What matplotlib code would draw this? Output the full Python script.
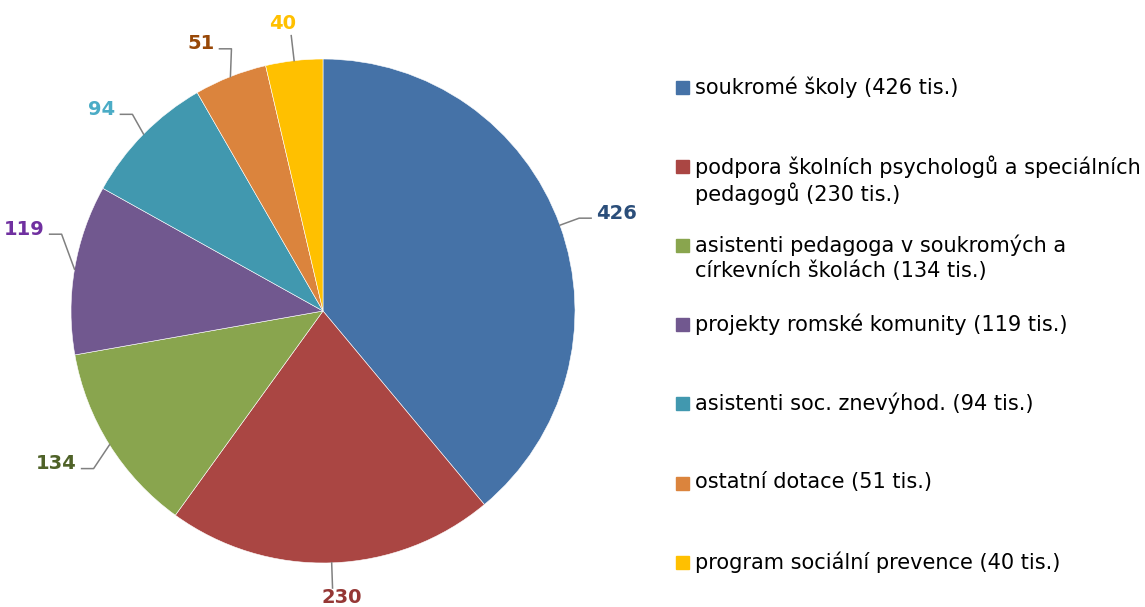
import numpy as np
import matplotlib.pyplot as plt

W, H = 1145, 607

categories = ['soukromé školy', 'podpora školních psychologů a speciálních\npedagogů',
              'asistenti pedagoga v soukromých a\ncírkevních školách', 'projekty romské komunity',
              'asistenti soc. znevýhod.', 'ostatní dotace', 'program sociální prevence']
values = [426, 230, 134, 119, 94, 51, 40]
colors = ['#4572A7', '#AA4643', '#89A54E', '#71588F', '#4198AF', '#DB843D', '#FFC000']
label_colors = ['#2B4E7A', '#953735', '#4F6228', '#7030A0', '#4BACC6', '#984807', '#FFC000']

fig = plt.figure(figsize=(W / 100, H / 100), dpi=100)
ax = fig.add_axes([0, 0, 1, 1])

cx, cy, R = 323, H - 311, 252
wedges, _ = ax.pie(values, colors=colors, startangle=90, counterclock=False,
                   center=(cx, cy), radius=R, frame=True,
                   wedgeprops=dict(edgecolor='white', linewidth=0.4))
ax.set_xlim(0, W)
ax.set_ylim(0, H)
ax.set_aspect('equal')
ax.axis('off')

line_c = '#808080'
# data labels with leader lines
for w, v, lc in zip(wedges, values, label_colors):
    mid = np.deg2rad((w.theta1 + w.theta2) / 2)
    dx, dy = np.cos(mid), np.sin(mid)
    p0 = (cx + R * dx, cy + R * dy)
    tw = len(str(v)) * 13.5
    if abs(dx) > 0.3:
        sgn = 1 if dx > 0 else -1
        ang = mid
        ra = R * 1.14
        # keep the label inside the figure: slide it up along the circle
        while cx + ra * np.cos(ang) - 3 - tw < 4 or cx + ra * np.cos(ang) + 3 + tw > W - 4:
            ang += np.deg2rad(0.5) * sgn
        ax_, ay_ = cx + ra * np.cos(ang), cy + ra * np.sin(ang)
        ly = ay_ - 5
        xs = [ax_ - sgn * 2, ax_ - sgn * 14, p0[0]]
        ax.plot(xs, [ly, ly, p0[1]], color=line_c, lw=1.1)
        ax.text(ax_ + sgn * 3, ay_, str(v), color=lc, fontsize=14, fontweight='bold',
                ha='left' if sgn > 0 else 'right', va='center')
    else:
        p1 = (cx + R * 1.1 * dx, cy + R * 1.1 * dy)
        ax.plot([p0[0], p1[0]], [p0[1], p1[1]], color=line_c, lw=1.1)
        ax.text(p1[0] + 9 * np.sign(dx), p1[1] + (3 if dy > 0 else 0), str(v), color=lc,
                fontsize=14, fontweight='bold', ha='center', va='bottom' if dy > 0 else 'top')

# legend
for i, (cat, v, c) in enumerate(zip(categories, values, colors)):
    y = H - (87 + i * 79.2)
    ax.add_patch(plt.Rectangle((676, y - 6.5), 13, 13, color=c))
    ax.text(695, y + 11, f'{cat} ({v} tis.)', fontsize=15, ha='left', va='top',
            linespacing=1.25, color='black')

fig.savefig('out.png', dpi=100)
plt.close()
